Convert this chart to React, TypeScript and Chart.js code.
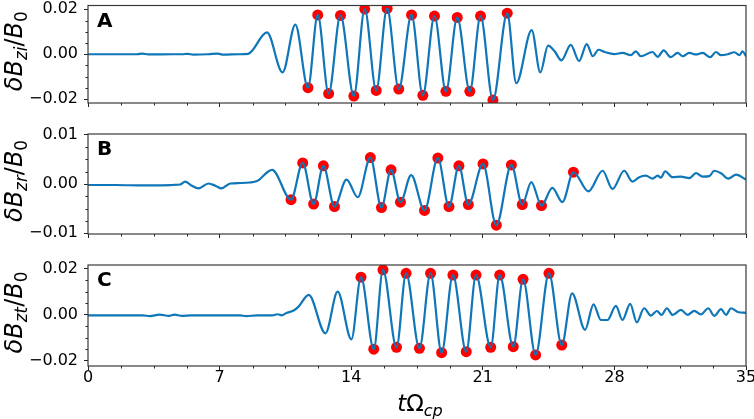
import React, { useEffect, useRef } from 'react';
import { Chart, registerables } from 'chart.js';
Chart.register(...registerables);

const W = 754;
const H = 419;
const BLUE = '#0f76b8';
const RED = '#ff0000';
const SPINE = '#3a3a3a';
const TICK = '#222222';
const FAM = '"DejaVu Sans", "Liberation Sans", sans-serif';

// ---- shared x axis ----
const X_MIN = 0;
const X_MAX = 35;
const X_TICKS = [0, 7, 14, 21, 28, 35];
const X_TICK_LABELS = ['0', '7', '14', '21', '28', '35'];
const X_MINOR = [1.75, 3.5, 5.25, 8.75, 10.5, 12.25, 15.75, 17.5, 19.25, 22.75, 24.5, 26.25, 29.75, 31.5, 33.25];

// ---- Panel A : dB_zi/B0 ----
const tA = [0, 1.5, 2.6, 2.9, 3.2, 4.5, 5.0, 5.3, 5.6, 6.4, 6.9, 7.2, 8.0, 8.52,
  9.52, 10.35, 11.03, 11.70, 12.22, 12.80, 13.43, 14.14, 14.72, 15.33, 15.91, 16.53,
  17.21, 17.81, 18.43, 19.04, 19.64, 20.31, 20.88, 21.54, 22.30, 22.78, 23.60, 24.06,
  24.47, 24.82, 25.18, 25.68, 26.12, 26.53, 26.85, 27.15, 27.49, 27.99, 28.43, 28.87,
  29.14, 29.41, 30.03, 30.30, 30.62, 31.00, 31.36, 31.63, 31.98, 32.34, 32.69, 33.10,
  33.40, 33.67, 34.03, 34.38, 34.65, 34.82, 35.0];
const vA = [0, 0, 0, 0.0003, -0.0001, 0, 0, 0.0002, -0.0002, 0, 0.0003, -0.0002, 0, 0.0002,
  0.0097, -0.0081, 0.0132, -0.0149, 0.0175, -0.0175, 0.0173, -0.0186, 0.0201, -0.0161, 0.0204, -0.0155,
  0.0175, -0.0183, 0.0170, -0.0165, 0.0164, -0.0165, 0.0170, -0.0204, 0.0183, -0.0129, 0.0107, -0.0081,
  0.0038, 0.0013, -0.0027, 0.0042, -0.0030, 0.0045, -0.0009, 0.0020, 0.0010, 0.0001, 0.0006, -0.0004,
  0.0013, -0.0009, 0.0010, -0.0012, 0.0017, -0.0013, 0.0006, -0.0009, 0.0006, -0.0001, 0.0006, -0.0013,
  0.0010, -0.0004, 0.0000, 0.0009, -0.0004, 0.0013, -0.0009];
const dotTA = [11.70, 12.22, 12.80, 13.43, 14.14, 14.72, 15.33, 15.91, 16.53, 17.21, 17.81, 18.43,
  19.04, 19.64, 20.31, 20.88, 21.54, 22.30];
const dotVA = [-0.0149, 0.0175, -0.0175, 0.0173, -0.0186, 0.0201, -0.0161, 0.0204, -0.0155, 0.0175, -0.0183, 0.0170,
  -0.0165, 0.0164, -0.0165, 0.0170, -0.0204, 0.0183];

// ---- Panel B : dB_zr/B0 ----
const tB = [0, 1.5, 3.0, 4.5, 4.9, 5.17, 5.5, 5.88, 6.41, 6.8, 7.09, 7.57, 8.1, 8.6, 8.99,
  9.79, 10.80, 11.42, 12.00, 12.52, 13.11, 13.75, 14.35, 15.02, 15.61, 16.12, 16.62, 17.19,
  17.90, 18.61, 19.20, 19.73, 20.23, 21.01, 21.72, 22.52, 23.10, 23.58, 24.12, 24.70, 25.23,
  25.82, 26.62, 27.37, 27.90, 28.52, 28.96, 29.32, 29.67, 30.03, 30.30, 30.47, 30.70, 31.09,
  31.54, 31.98, 32.34, 32.69, 33.05, 33.31, 33.67, 34.06, 34.47, 35.0];
const vB = [-0.0002, -0.0002, -0.0003, -0.0002, -0.0001, 0.0005, -0.0003, -0.0009, 0.0001, -0.0004, -0.0009, 0.0001, 0.0002, 0.0003, 0.0006,
  0.0029, -0.0032, 0.0043, -0.0041, 0.0037, -0.0046, 0.0009, -0.0027, 0.0054, -0.0048, 0.0029, -0.0037, 0.0018,
  -0.0054, 0.0053, -0.0046, 0.0037, -0.0042, 0.0041, -0.0084, 0.0039, -0.0042, 0.0004, -0.0044, -0.0008, -0.0037,
  0.0024, -0.0015, 0.0027, -0.0010, 0.0027, 0.0005, 0.0014, 0.0017, 0.0011, 0.0017, 0.0013, 0.0026, 0.0014,
  0.0015, 0.0012, 0.0022, 0.0015, 0.0016, 0.0027, 0.0022, 0.0011, 0.0019, 0.0009];
const dotTB = [10.80, 11.42, 12.00, 12.52, 13.11, 15.02, 15.61, 16.12, 16.62, 17.90, 18.61, 19.20,
  19.73, 20.23, 21.01, 21.72, 22.52, 23.10, 24.12, 25.82];
const dotVB = [-0.0032, 0.0043, -0.0041, 0.0037, -0.0046, 0.0054, -0.0048, 0.0029, -0.0037, -0.0054, 0.0053, -0.0046,
  0.0037, -0.0042, 0.0041, -0.0084, 0.0039, -0.0042, -0.0044, 0.0024];

// ---- Panel C : dB_zt/B0 ----
const tC = [0, 1.5, 2.9, 3.3, 3.8, 4.3, 4.6, 5.0, 5.5, 6.5, 7.5, 8.1, 8.4, 9.0, 9.8, 10.1, 10.3, 10.55,
  10.94, 11.2, 11.74, 12.63, 13.28, 14.01, 14.52, 15.20, 15.69, 16.41, 16.92, 17.63, 18.22, 18.81,
  19.41, 20.12, 20.64, 21.42, 21.90, 22.62, 23.14, 23.81, 24.52, 25.20, 25.75, 26.44, 26.89, 27.28,
  27.63, 28.08, 28.43, 28.84, 29.19, 29.58, 29.94, 30.26, 30.51, 30.79, 31.10, 31.54, 31.89, 32.25,
  32.60, 32.99, 33.31, 33.67, 33.94, 34.20, 34.56, 35.0];
const vC = [-0.0002, -0.0002, -0.0002, -0.0005, 0.0001, -0.0004, 0.0001, -0.0004, -0.0002, -0.0002, -0.0002, -0.0002, -0.0005, -0.0002, -0.0002, 0.0003, -0.0002, 0.0008,
  0.0019, 0.0036, 0.0087, -0.0080, 0.0101, -0.0106, 0.0164, -0.0149, 0.0196, -0.0141, 0.0181, -0.0145, 0.0181, -0.0164,
  0.0173, -0.0160, 0.0173, -0.0141, 0.0173, -0.0138, 0.0155, -0.0174, 0.0181, -0.0131, 0.0094, -0.0065, 0.0046, -0.0022,
  -0.0022, 0.0039, -0.0022, 0.0048, -0.0032, 0.0029, -0.0003, 0.0017, 0.0000, 0.0029, 0.0000, 0.0022, 0.0000, 0.0018,
  0.0002, 0.0029, -0.0004, 0.0025, 0.0000, 0.0029, 0.0013, 0.0009];
const dotTC = [14.52, 15.20, 15.69, 16.41, 16.92, 17.63, 18.22, 18.81, 19.41, 20.12, 20.64, 21.42,
  21.90, 22.62, 23.14, 23.81, 24.52, 25.20];
const dotVC = [0.0164, -0.0149, 0.0196, -0.0141, 0.0181, -0.0145, 0.0181, -0.0164, 0.0173, -0.0160, 0.0173, -0.0141,
  0.0173, -0.0138, 0.0155, -0.0174, 0.0181, -0.0131];

// ---- y tick sets ----
const Y_TICKS_2 = [-0.02, 0, 0.02];
const Y_LABELS_2 = ['\u22120.02', '0.00', '0.02'];
const Y_MINOR_2 = [-0.015, -0.01, -0.005, 0.005, 0.01, 0.015];
const Y_TICKS_1 = [-0.01, 0, 0.01];
const Y_LABELS_1 = ['\u22120.01', '0.00', '0.01'];
const Y_MINOR_1 = [-0.0075, -0.005, -0.0025, 0.0025, 0.005, 0.0075];

type Part = { t: string; it?: boolean; sub?: boolean };
const TITLE_A: Part[] = [{ t: 'δ', it: true }, { t: 'B', it: true }, { t: 'zi', it: true, sub: true }, { t: '/' }, { t: 'B', it: true }, { t: '0', sub: true }];
const TITLE_B: Part[] = [{ t: 'δ', it: true }, { t: 'B', it: true }, { t: 'zr', it: true, sub: true }, { t: '/' }, { t: 'B', it: true }, { t: '0', sub: true }];
const TITLE_C: Part[] = [{ t: 'δ', it: true }, { t: 'B', it: true }, { t: 'zt', it: true, sub: true }, { t: '/' }, { t: 'B', it: true }, { t: '0', sub: true }];
const X_TITLE: Part[] = [{ t: 't', it: true }, { t: 'Ω' }, { t: 'cp', it: true, sub: true }];

type Spec = {
  letter: string; top: number; bottom: number; yMin: number; yMax: number;
  yTicks: number[]; yLabels: string[]; yMinor: number[];
  lt: number[]; lv: number[]; dt: number[]; dv: number[];
  title: Part[]; showX: boolean;
};

const PANELS: Spec[] = [
  { letter: 'A', top: 3, bottom: 103, yMin: -0.0217, yMax: 0.0217, yTicks: Y_TICKS_2, yLabels: Y_LABELS_2, yMinor: Y_MINOR_2, lt: tA, lv: vA, dt: dotTA, dv: dotVA, title: TITLE_A, showX: false },
  { letter: 'B', top: 134, bottom: 234, yMin: -0.0102, yMax: 0.0102, yTicks: Y_TICKS_1, yLabels: Y_LABELS_1, yMinor: Y_MINOR_1, lt: tB, lv: vB, dt: dotTB, dv: dotVB, title: TITLE_B, showX: false },
  { letter: 'C', top: 265, bottom: 366, yMin: -0.0222, yMax: 0.0217, yTicks: Y_TICKS_2, yLabels: Y_LABELS_2, yMinor: Y_MINOR_2, lt: tC, lv: vC, dt: dotTC, dv: dotVC, title: TITLE_C, showX: true },
];

function drawMath(ctx: CanvasRenderingContext2D, parts: Part[], size: number, cx: number, baseline: number) {
  const fontFor = (p: Part) => `${p.it ? 'italic ' : ''}${p.sub ? size * 0.7 : size}px ${FAM}`;
  let total = 0;
  const widths = parts.map((p) => {
    ctx.font = fontFor(p);
    const w = ctx.measureText(p.t).width;
    total += w;
    return w;
  });
  let x = cx - total / 2;
  ctx.textAlign = 'left';
  ctx.textBaseline = 'alphabetic';
  parts.forEach((p, i) => {
    ctx.font = fontFor(p);
    ctx.fillText(p.t, x, baseline + (p.sub ? size * 0.22 : 0));
    x += widths[i];
  });
}

function decor(spec: Spec) {
  return {
    id: 'decor' + spec.letter,
    afterDraw(chart: any) {
      const { ctx, chartArea: a, scales } = chart;
      const xs = scales.x;
      const ys = scales.y;
      ctx.save();
      ctx.strokeStyle = TICK;
      ctx.lineWidth = 1;
      ctx.beginPath();
      X_MINOR.forEach((v) => {
        const px = Math.round(xs.getPixelForValue(v)) + 0.5;
        ctx.moveTo(px, a.bottom);
        ctx.lineTo(px, a.bottom + 2.5);
      });
      spec.yMinor.forEach((v) => {
        const py = Math.round(ys.getPixelForValue(v)) + 0.5;
        ctx.moveTo(a.left, py);
        ctx.lineTo(a.left - 2.5, py);
      });
      ctx.stroke();
      ctx.strokeStyle = SPINE;
      ctx.lineWidth = 1.2;
      ctx.strokeRect(a.left, a.top, a.right - a.left, a.bottom - a.top);
      ctx.fillStyle = '#000';
      ctx.font = `bold 20px ${FAM}`;
      ctx.textAlign = 'left';
      ctx.textBaseline = 'alphabetic';
      ctx.fillText(spec.letter, a.left + 9, a.top + 21);
      if (spec.showX) {
        drawMath(ctx, X_TITLE, 23, (a.left + a.right) / 2 + 3, 411);
      }
      ctx.translate(22, (a.top + a.bottom) / 2 - 3);
      ctx.rotate(-Math.PI / 2);
      drawMath(ctx, spec.title, 24, 0, 0);
      ctx.restore();
    },
  };
}

function buildConfig(spec: Spec): any {
  const line = spec.lt.map((t, i) => ({ x: t, y: spec.lv[i] }));
  const dots = spec.dt.map((t, i) => ({ x: t, y: spec.dv[i] }));
  const font = { family: FAM, size: 16 };
  return {
    type: 'line',
    data: {
      datasets: [
        {
          type: 'line', data: line, borderColor: BLUE, borderWidth: 2.2, pointRadius: 0,
          cubicInterpolationMode: 'monotone', fill: false, order: 0, clip: 0,
        },
        {
          type: 'scatter', data: dots, backgroundColor: RED, borderColor: RED, borderWidth: 0,
          pointRadius: 5.5, order: 1, clip: 0,
        },
      ],
    },
    options: {
      responsive: false,
      animation: false,
      events: [],
      layout: { padding: { top: spec.top, right: W - 746, bottom: 0, left: 0 } },
      plugins: { legend: { display: false }, tooltip: { enabled: false }, title: { display: false } },
      scales: {
        x: {
          type: 'linear', min: X_MIN, max: X_MAX,
          afterBuildTicks: (s: any) => { s.ticks = X_TICKS.map((v) => ({ value: v })); },
          afterFit: (s: any) => { s.height = H - spec.bottom; s.paddingLeft = 0; s.paddingRight = 0; },
          ticks: {
            display: spec.showX, font, color: '#000', padding: -2, maxRotation: 0, autoSkip: false,
            callback: (v: number) => { const i = X_TICKS.indexOf(v); return i >= 0 ? X_TICK_LABELS[i] : ''; },
          },
          grid: { display: true, drawOnChartArea: false, drawTicks: true, tickLength: 4, tickColor: TICK, tickWidth: 1 },
          border: { display: false },
        },
        y: {
          type: 'linear', min: spec.yMin, max: spec.yMax,
          afterBuildTicks: (s: any) => { s.ticks = spec.yTicks.map((v) => ({ value: v })); },
          afterFit: (s: any) => { s.width = 88; s.paddingTop = 0; s.paddingBottom = 0; },
          ticks: {
            font, color: '#000', padding: 6, autoSkip: false,
            callback: (v: number) => {
              const i = spec.yTicks.findIndex((t) => Math.abs(t - v) < 1e-9);
              return i >= 0 ? spec.yLabels[i] : '';
            },
          },
          grid: { display: true, drawOnChartArea: false, drawTicks: true, tickLength: 4, tickColor: TICK, tickWidth: 1 },
          border: { display: false },
        },
      },
    },
    plugins: [decor(spec)],
  };
}

function Panel({ spec }: { spec: Spec }) {
  const ref = useRef<HTMLCanvasElement>(null);
  useEffect(() => {
    const chart = new Chart(ref.current as HTMLCanvasElement, buildConfig(spec));
    return () => chart.destroy();
  }, [spec]);
  return (
    <canvas
      ref={ref}
      width={W}
      height={H}
      style={{ position: 'absolute', left: 0, top: 0, width: W, height: H }}
    />
  );
}

export default function App() {
  return (
    <div style={{ position: 'fixed', left: 0, top: 0, width: W, height: H, background: '#fff', overflow: 'hidden' }}>
      {PANELS.map((p) => (
        <Panel key={p.letter} spec={p} />
      ))}
    </div>
  );
}
